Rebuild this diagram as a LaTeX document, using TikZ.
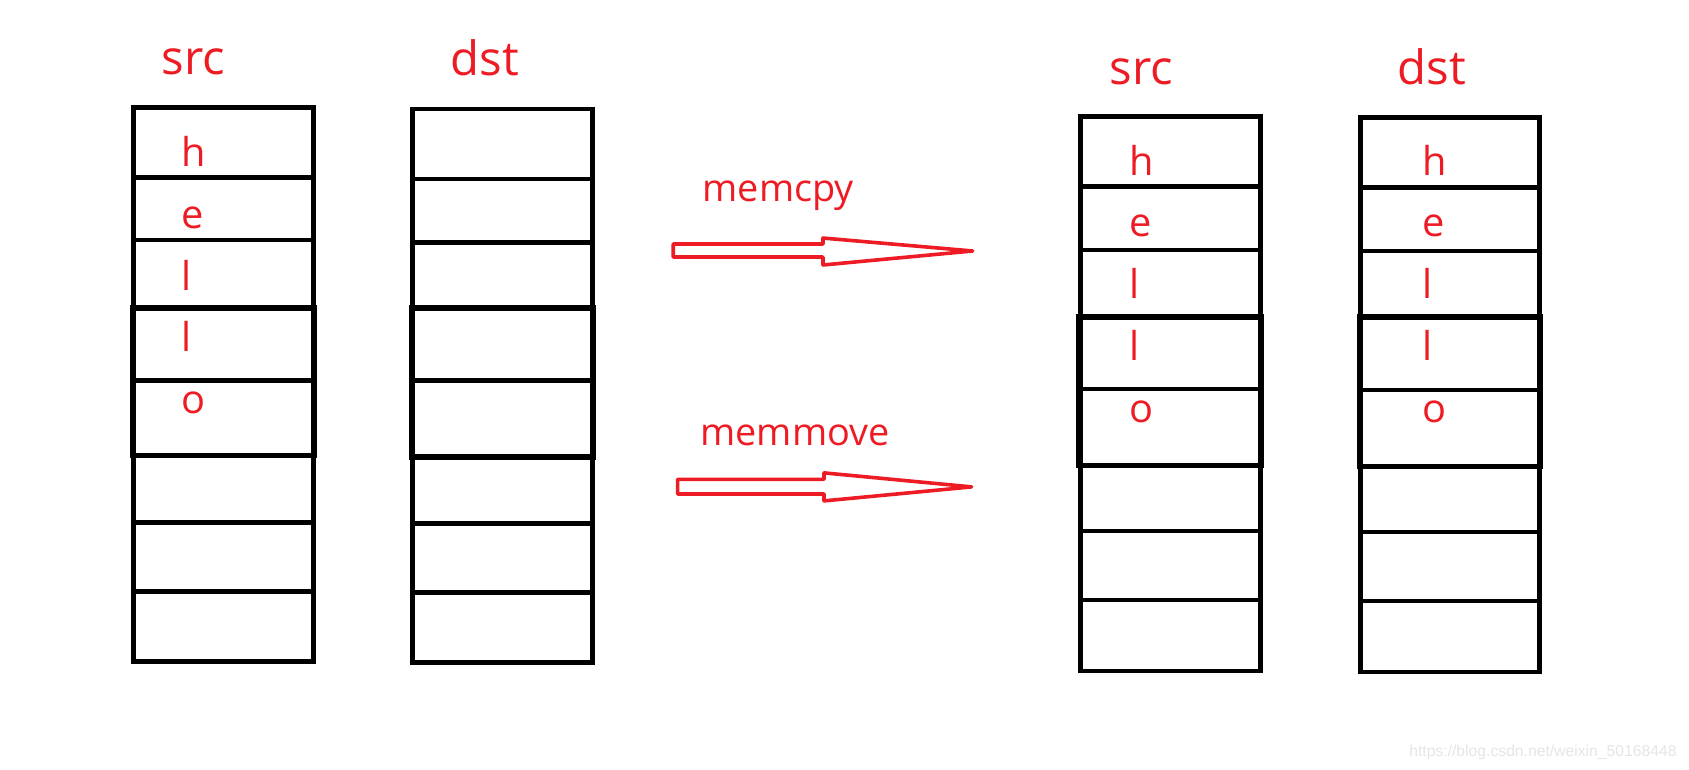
\documentclass[tikz,border=0pt]{standalone}
\usepackage{fontspec}
\setmainfont{Open Sans}
\newfontfamily\wmfont{Liberation Sans}
\usepackage{tikz}
\usetikzlibrary{positioning}
\definecolor{paintred}{RGB}{237,28,36}

\begin{document}
\begin{tikzpicture}[x=0.02cm,y=-0.02cm,
  every node/.style={inner sep=0pt,anchor=base west,text=paintred},
  cell/.style={draw,line width=2.4pt},
  hot/.style={draw,line width=3pt},
  title/.style={font=\fontsize{25}{25}\selectfont},
  letter/.style={font=\fontsize{21}{21}\selectfont},
  tag/.style={font=\fontsize{20}{20}\selectfont},
  hollow/.style={draw=paintred,line width=1.9pt,line join=round}]
  \useasboundingbox (0,0) rectangle (1568,714);

  % before
  \draw[cell](124,100) rectangle (291,614);
  \draw[cell](124,165)--(291,165);
  \draw[cell](124,223)--(291,223);
  \draw[cell](124,353)--(291,353);
  \draw[cell](124,485)--(291,485);
  \draw[cell](124,549)--(291,549);
  \draw[hot](123,286) rectangle (292,423);

  \draw[cell](383,101) rectangle (550,615);
  \draw[cell](383,166)--(550,166);
  \draw[cell](383,225)--(550,225);
  \draw[cell](383,353)--(550,353);
  \draw[cell](383,486)--(550,486);
  \draw[cell](383,550)--(550,550);
  \draw[hot](382,286) rectangle (551,424);

  \node[title] (srcA) at (150,69.6) {src};
  \node[title] (dstA) at (418,70) {dst};

  \node[letter] (a1) at (168.5,154.7) {h};
  \node[letter] (a2) at (168.5,212) {e};
  \node[letter] (a3) at (168.5,269.3) {l};
  \node[letter] (a4) at (168.5,326.6) {l};
  \node[letter] (a5) at (168.5,383.9) {o};

  % the two calls
  \node[tag] (cpy) at (652,186.6) {memcpy};
  \node[tag] (mov) at (650,414) {memmove};
  \draw[hollow](625,226.5)--(764,226.5)--(764,221)--(903,233)--(764,246)--(764,238.6)--(625,238.6)--cycle;
  \draw[hollow](629,445)--(765,445)--(765,439)--(902,452)--(765,465)--(765,458.6)--(629,458.6)--cycle;

  % after
  \draw[cell](1003,108) rectangle (1170,623);
  \draw[cell](1003,173)--(1170,173);
  \draw[cell](1003,232)--(1170,232);
  \draw[cell](1003,361)--(1170,361);
  \draw[cell](1003,493)--(1170,493);
  \draw[cell](1003,557)--(1170,557);
  \draw[hot](1002,294) rectangle (1171,432);

  \draw[cell](1263,109) rectangle (1429,624);
  \draw[cell](1263,174)--(1429,174);
  \draw[cell](1263,233)--(1429,233);
  \draw[cell](1263,362)--(1429,362);
  \draw[cell](1263,494)--(1429,494);
  \draw[cell](1263,558)--(1429,558);
  \draw[hot](1262,294) rectangle (1430,433);

  \node[title] (srcB) at (1030,78) {src};
  \node[title] (dstB) at (1297,78) {dst};

  \node[letter] (b1) at (1048.5,162.5) {h};
  \node[letter] (b2) at (1048.5,220) {e};
  \node[letter] (b3) at (1048.5,277.5) {l};
  \node[letter] (b4) at (1048.5,335) {l};
  \node[letter] (b5) at (1048.5,392.5) {o};

  \node[letter] (c1) at (1320.5,162.5) {h};
  \node[letter] (c2) at (1320.5,220) {e};
  \node[letter] (c3) at (1320.5,277.5) {l};
  \node[letter] (c4) at (1320.5,335) {l};
  \node[letter] (c5) at (1320.5,392.5) {o};

  \node[text=black!10,font=\wmfont\fontsize{8.3}{8.3}\selectfont] (mark) at (1308,702) {https://blog.csdn.net/weixin\_50168448};
\end{tikzpicture}
\end{document}
